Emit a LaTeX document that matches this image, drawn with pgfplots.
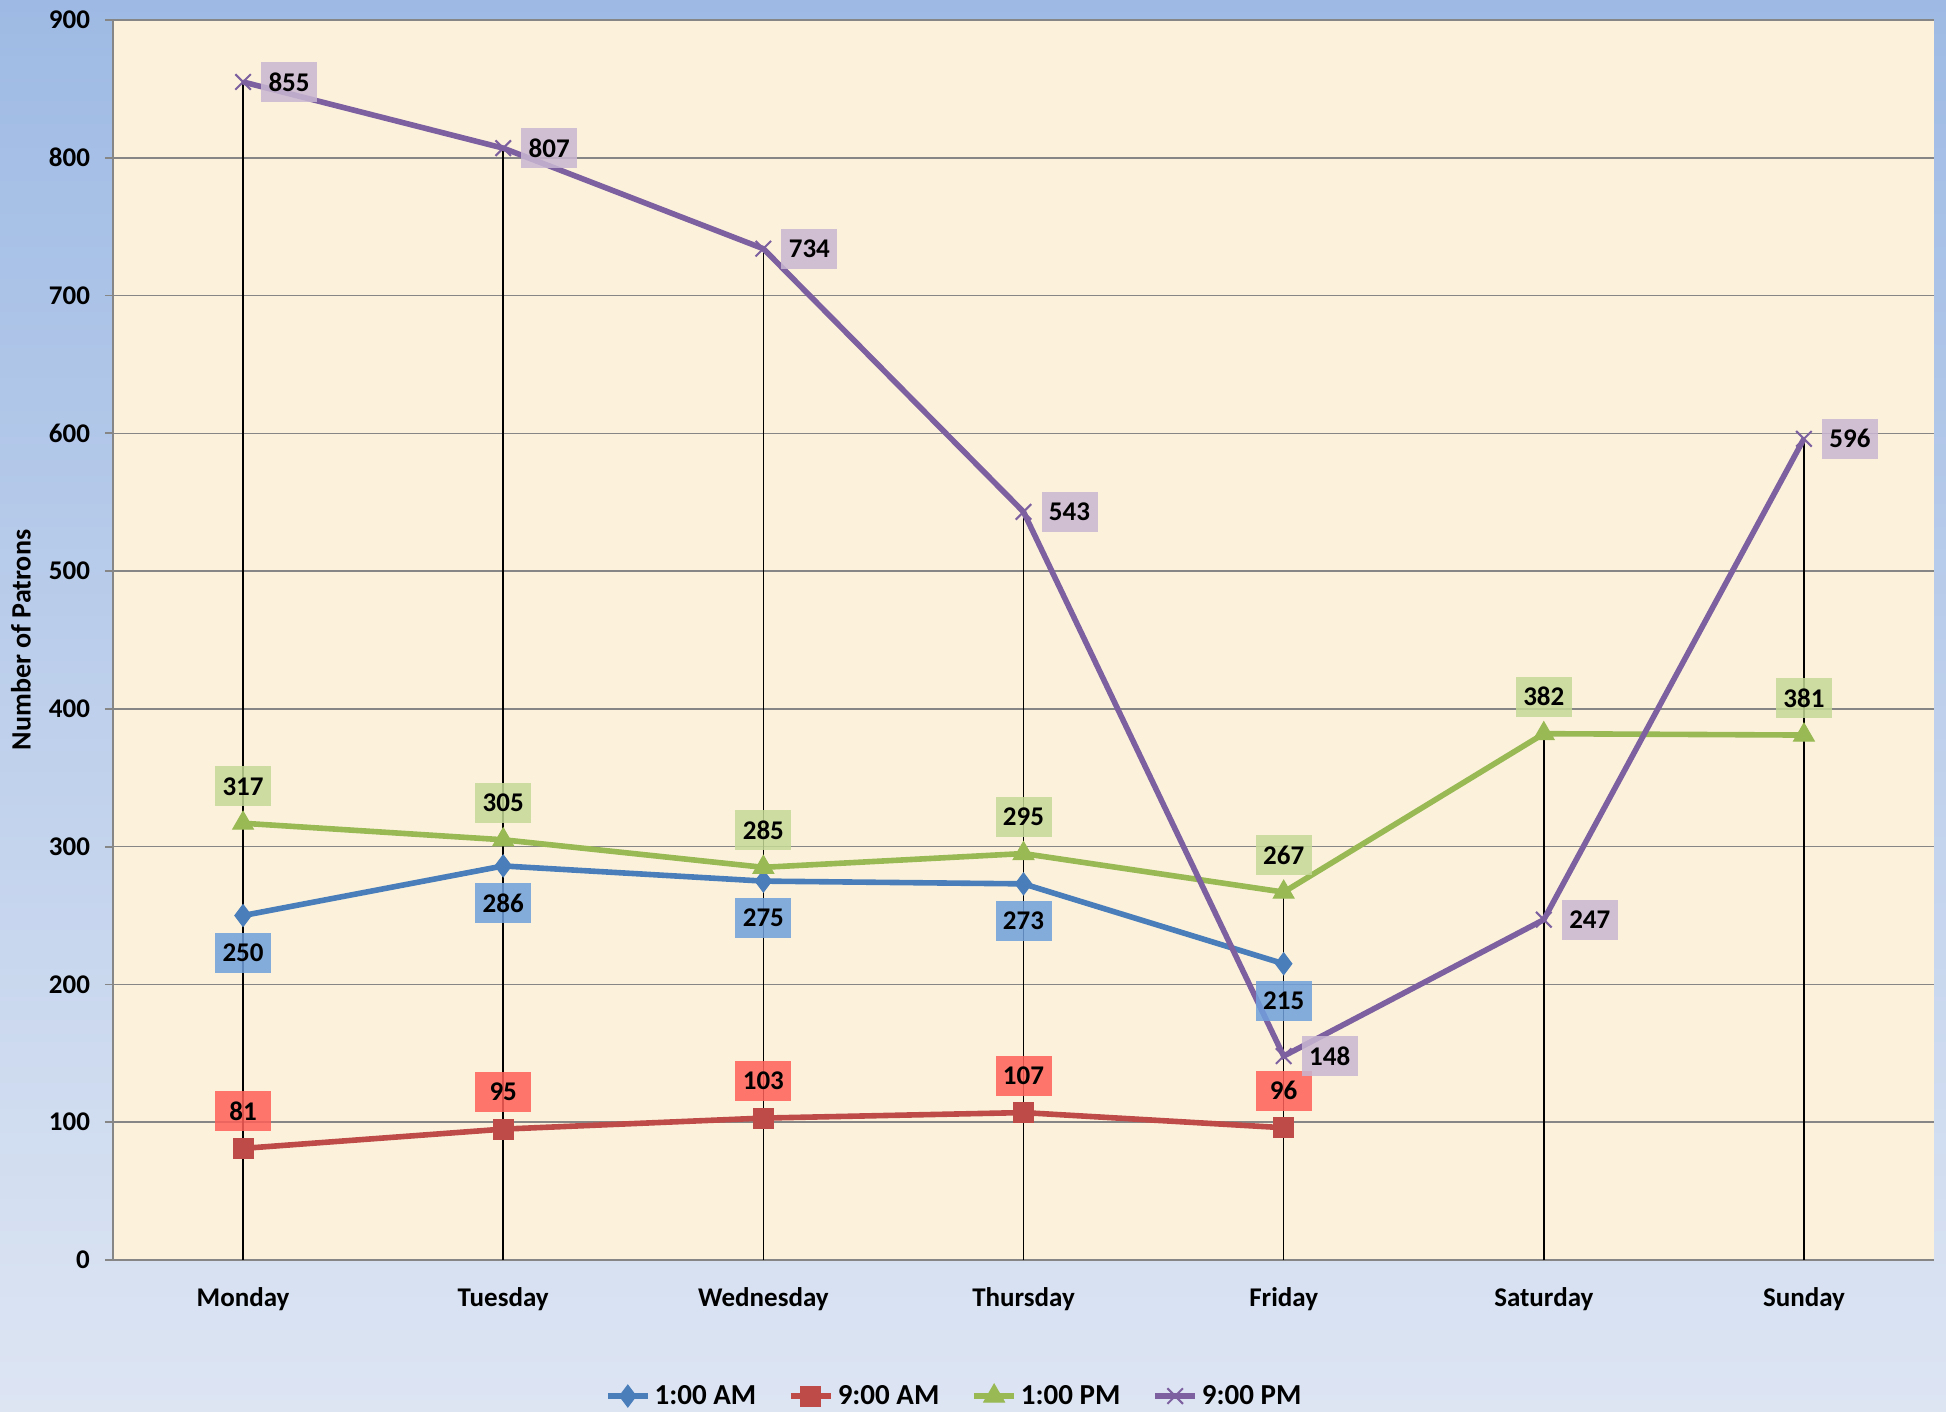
\documentclass[border=0pt]{standalone}
\usepackage{fontspec}
\setmainfont{Carlito}
\usepackage{pgfplots}
\pgfplotsset{compat=1.18}

\definecolor{bgtop}{RGB}{158,186,228}
\definecolor{bgbot}{RGB}{221,229,243}
\definecolor{paper}{RGB}{252,242,219}
\definecolor{gridgray}{RGB}{134,134,134}
\definecolor{sblue}{RGB}{74,126,187}
\definecolor{sred}{RGB}{190,75,72}
\definecolor{sgreen}{RGB}{152,185,84}
\definecolor{spurple}{RGB}{125,96,160}
\definecolor{lblue}{RGB}{111,160,220}
\definecolor{lred}{RGB}{255,96,88}
\definecolor{lgreen}{RGB}{197,217,150}
\definecolor{lpurple}{RGB}{201,182,210}

\tikzset{lbl/.style={fill opacity=0.85, text opacity=1, text=black,
    inner sep=0pt, minimum width=28pt, minimum height=20pt,
    font=\fontsize{13.5}{15}\selectfont\bfseries}}

\begin{document}
\begin{tikzpicture}
    % chart background
    \shade[top color=bgtop, bottom color=bgbot]
        (-56.5pt,-75.5pt) rectangle (916.5pt,630pt);
    \begin{axis}[
            at={(0,0)}, anchor=south west,
            scale only axis,
            width=910.5pt,
            height=620pt,
            xmin=-0.5, xmax=6.5,
            ymin=0, ymax=900,
            xtick={0,1,2,3,4,5,6},
            xticklabels={Monday,Tuesday,Wednesday,Thursday,Friday,Saturday,Sunday},
            ytick={0,100,...,900},
            axis background/.style={fill=paper},
            axis lines=left,
            axis line style={gridgray, line width=0.9pt, -},
            ymajorgrids,
            grid style={gridgray, line width=0.8pt},
            major tick length=4pt,
            xtick style={draw=none},
            ytick style={gridgray, line width=0.9pt},
            tick align=outside,
            /pgf/number format/assume math mode=true,
            ticklabel style={font=\fontsize{13.5}{15}\selectfont\bfseries},
            yticklabel style={xshift=-4pt},
            xticklabel style={yshift=-6pt},
            ylabel={Number of Patrons},
            every axis y label/.style={at={(axis description cs:-0.0505,0.5)}, rotate=90,
                anchor=center, font=\fontsize{14}{16}\selectfont\bfseries},
            legend style={at={(axis description cs:0.4625,-0.1097)}, anchor=center,
                draw=none, fill=none, legend columns=4,
                font=\fontsize{14.5}{16}\selectfont\bfseries,
                /tikz/every even column/.append style={column sep=14pt}},
            legend image code/.code={%
                \draw[mark repeat=2, mark phase=2]
                    plot coordinates {(0pt,0pt) (10pt,0pt) (20pt,0pt)};},
            legend cell align=left,
            clip=false,
        ]
        % drop lines
        \addplot[ycomb, black, line width=0.8pt, forget plot, mark=none]
            coordinates {(0,855) (1,807) (2,734) (3,543) (4,267) (5,382) (6,596)};

        \addplot[sblue, line width=2.8pt, mark=diamond*, mark size=5.5pt,
                mark options={solid, fill=sblue, draw=sblue, line width=0.5pt},
                nodes near coords,
                every node near coord/.append style={lbl, fill=lblue, anchor=center, yshift=-18.5pt}]
            coordinates {(0,250) (1,286) (2,275) (3,273) (4,215)};
        \addlegendentry{1:00 AM}

        \addplot[sred, line width=2.8pt, mark=square*, mark size=5pt,
                mark options={solid, fill=sred, draw=sred, line width=0.5pt},
                nodes near coords,
                every node near coord/.append style={lbl, fill=lred, anchor=center, yshift=18.5pt}]
            coordinates {(0,81) (1,95) (2,103) (3,107) (4,96)};
        \addlegendentry{9:00 AM}

        \addplot[sgreen, line width=2.8pt, mark=triangle*, mark size=6pt,
                mark options={solid, fill=sgreen, draw=sgreen, line width=0.5pt},
                nodes near coords,
                every node near coord/.append style={lbl, fill=lgreen, anchor=center, yshift=18.5pt}]
            coordinates {(0,317) (1,305) (2,285) (3,295) (4,267) (5,382) (6,381)};
        \addlegendentry{1:00 PM}

        \addplot[spurple, line width=2.8pt, mark=x, mark size=5.5pt,
                mark options={solid, draw=spurple, line width=1pt},
                nodes near coords,
                every node near coord/.append style={lbl, fill=lpurple, anchor=center, xshift=23pt}]
            coordinates {(0,855) (1,807) (2,734) (3,543) (4,148) (5,247) (6,596)};
        \addlegendentry{9:00 PM}
    \end{axis}
\end{tikzpicture}
\end{document}
